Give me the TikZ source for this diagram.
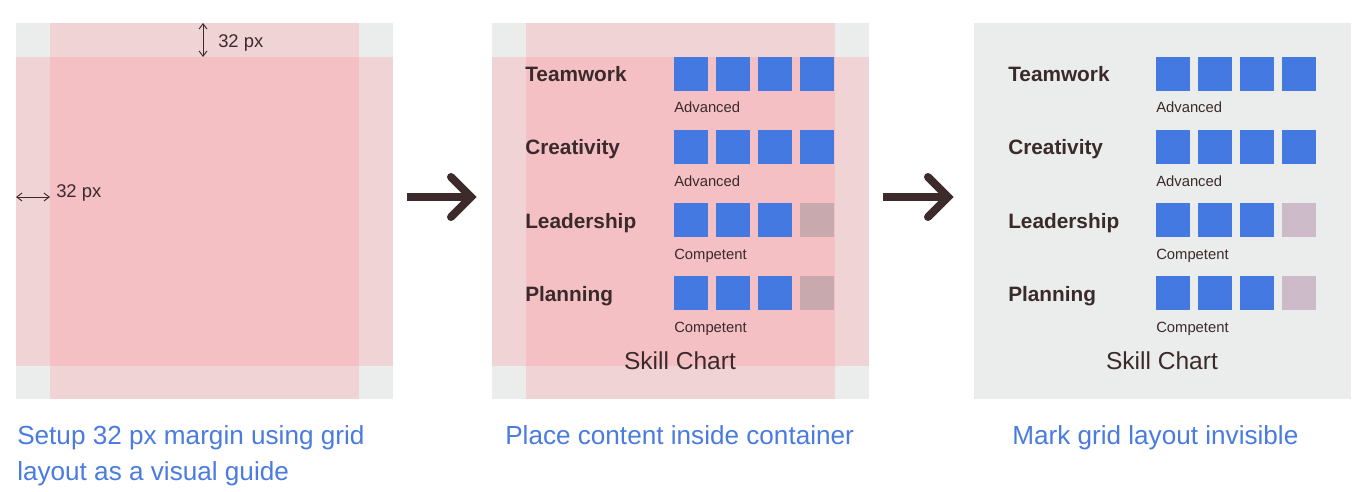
\documentclass[tikz,border=0pt]{standalone}
\usepackage{fontspec}
\setmainfont{Liberation Sans}
\usetikzlibrary{arrows.meta}
\definecolor{pgray}{HTML}{EBECEC}
\definecolor{pstrip}{HTML}{F0D3D4}
\definecolor{pcenter}{HTML}{F4C0C3}
\definecolor{sqblue}{HTML}{4479E1}
\definecolor{txt}{HTML}{3B2A2C}
\definecolor{capblue}{HTML}{4A7BE0}
\definecolor{sqofftwo}{HTML}{C8A9AE}
\definecolor{sqoffthree}{HTML}{CDBBC9}
\definecolor{arrowc}{HTML}{3D2B2B}
\begin{document}
\begin{tikzpicture}[x=0.75pt,y=-0.75pt,
  txtnode/.style={inner sep=0pt,anchor=base west,text=txt},
  skill/.style={txtnode,font=\bfseries\fontsize{15.6}{18}\selectfont},
  level/.style={txtnode,font=\fontsize{11.1}{13}\selectfont},
  charttitle/.style={inner sep=0pt,anchor=base,text=txt,font=\fontsize{18.4}{21}\selectfont},
  caption/.style={inner sep=0pt,anchor=base west,text=capblue,font=\fontsize{19.6}{27}\selectfont},
  pxlabel/.style={txtnode,font=\fontsize{13.8}{16}\selectfont},
  sqbox/.style={inner sep=0pt,minimum size=25.5pt,anchor=north west,fill=sqblue,draw=none},
  bigarrow/.style={draw=arrowc,line width=6pt},
  chevron/.style={draw=arrowc,line width=6pt,line cap=round,line join=miter},
  dimarrow/.style={draw=txt,line width=0.7pt,{Straight Barb[length=4pt,width=6pt]}-{Straight Barb[length=4pt,width=6pt]}}
]
\path[use as bounding box,fill=white] (0,0) rectangle (1368,492);

% ---------- panel 1 ----------
\begin{scope}[shift={(16,23)}]
  \fill[pgray] (0,0) rectangle (377,376);
  \fill[pstrip] (34,0) rectangle (343,376);
  \fill[pstrip] (0,34) rectangle (377,343);
  \fill[pcenter] (34,34) rectangle (343,343);
  \coordinate (hl) at (0,174);
  \coordinate (hr) at (34,174);
  \coordinate (vt) at (187,0);
  \coordinate (vb) at (187,34);
  \node[pxlabel] (lblh) at (40,174) {32 px};
  \node[pxlabel] (lblv) at (202,25) {32 px};
\end{scope}
\draw[dimarrow] (hl) -- (hr);
\draw[dimarrow] (vt) -- (vb);

% ---------- panel 2 ----------
\begin{scope}[shift={(492,23)}]
  \fill[pgray] (0,0) rectangle (377,376);
  \fill[pstrip] (34,0) rectangle (343,376);
  \fill[pstrip] (0,34) rectangle (377,343);
  \fill[pcenter] (34,34) rectangle (343,343);
  \foreach \nm/\lv/\n [count=\r from 0] in {Teamwork/Advanced/4,Creativity/Advanced/4,Leadership/Competent/3,Planning/Competent/3}{
    \node[skill] (b-s\r) at (33,59+73*\r) {\nm};
    \node[level] (b-l\r) at (182,90+73*\r) {\lv};
    \foreach \c in {0,1,2,3}{
      \ifnum\c<\n
        \node[sqbox] (b-q\r\c) at (182+42*\c,34+73*\r) {};
      \else
        \node[sqbox,fill=sqofftwo] (b-q\r\c) at (182+42*\c,34+73*\r) {};
      \fi
    }
  }
  \node[charttitle] (b-title) at (188,346) {Skill Chart};
\end{scope}

% ---------- panel 3 ----------
\begin{scope}[shift={(974,23)}]
  \fill[pgray] (0,0) rectangle (377,376);
  \foreach \nm/\lv/\n [count=\r from 0] in {Teamwork/Advanced/4,Creativity/Advanced/4,Leadership/Competent/3,Planning/Competent/3}{
    \node[skill] (c-s\r) at (34,59+73*\r) {\nm};
    \node[level] (c-l\r) at (182,90+73*\r) {\lv};
    \foreach \c in {0,1,2,3}{
      \ifnum\c<\n
        \node[sqbox] (c-q\r\c) at (182+42*\c,34+73*\r) {};
      \else
        \node[sqbox,fill=sqoffthree] (c-q\r\c) at (182+42*\c,34+73*\r) {};
      \fi
    }
  }
  \node[charttitle] (c-title) at (188,346) {Skill Chart};
\end{scope}

% ---------- big arrows ----------
\coordinate (a1s) at (407,197);
\coordinate (a1t) at (471,197);
\coordinate (a1u) at (451,177);
\coordinate (a1d) at (451,217);
\draw[bigarrow] (a1s) -- (a1t);
\draw[chevron] (a1u) -- (a1t) -- (a1d);
\coordinate (a2s) at (883,197);
\coordinate (a2t) at (948,197);
\coordinate (a2u) at (928,177);
\coordinate (a2d) at (928,217);
\draw[bigarrow] (a2s) -- (a2t);
\draw[chevron] (a2u) -- (a2t) -- (a2d);

% ---------- captions ----------
\node[caption] (cap1a) at (17,444) {Setup 32 px margin using grid};
\node[caption] (cap1b) at (17,480) {layout as a visual guide};
\node[caption] (cap2) at (505,444) {Place content inside container};
\node[caption] (cap3) at (1012,444) {Mark grid layout invisible};
\end{tikzpicture}
\end{document}
